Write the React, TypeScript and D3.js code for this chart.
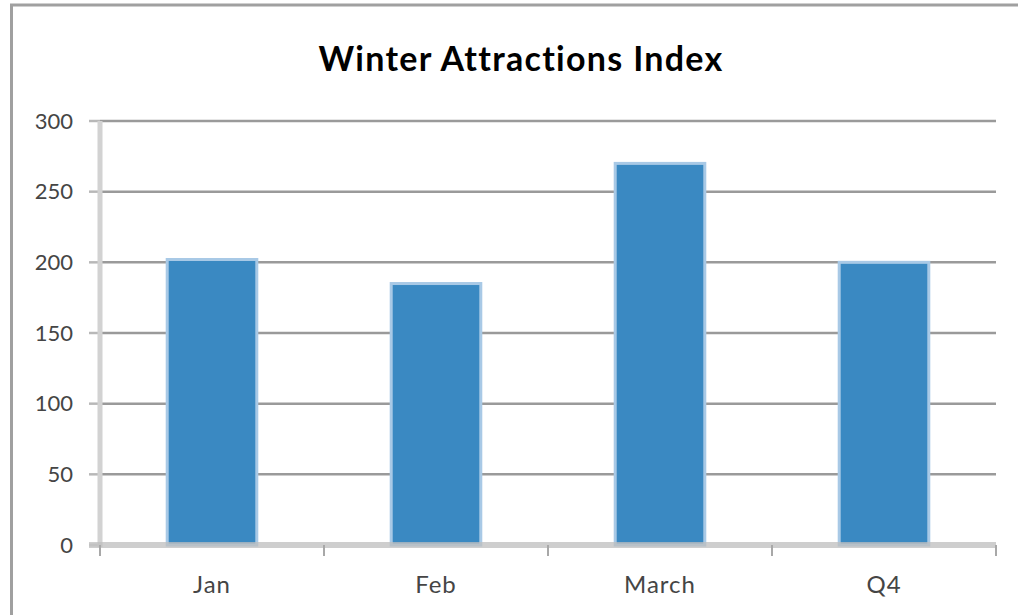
import React from "react";
import * as d3 from "d3";

const title = "Winter Attractions Index";
const categories = ["Jan", "Feb", "March", "Q4"];
const values = [202, 185, 270, 200];
const yTicks = [0, 50, 100, 150, 200, 250, 300];

const W = 1018;
const H = 615;
const M = { left: 100, right: 996, top: 121, bottom: 545 };

export default function App() {
  const x = d3
    .scaleBand<string>()
    .domain(categories)
    .range([M.left, M.right])
    .paddingInner(0.6)
    .paddingOuter(0.3);
  const y = d3.scaleLinear().domain([0, 300]).range([M.bottom, M.top]);
  const step = x.step();
  const boundaries = d3.range(categories.length + 1).map((i) => M.left + i * step);
  const font = "Lato, 'Open Sans', sans-serif";

  return (
    <div style={{ position: "absolute", left: 0, top: 0 }}>
      <svg width={W} height={H} style={{ display: "block", background: "#fff" }}>
        {/* chart border (left and top) */}
        <line x1={11.5} x2={11.5} y1={4} y2={H} stroke="#a0a0a0" strokeWidth={3} />
        <line x1={10} x2={W} y1={5} y2={5} stroke="#a0a0a0" strokeWidth={3} />

        <text
          x={521}
          y={71}
          textAnchor="middle"
          fontFamily={font}
          fontWeight={700}
          fontSize={34}
          letterSpacing={1.3}
          fill="#000"
        >
          {title}
        </text>

        {/* gridlines */}
        {yTicks.map((t) =>
          t === 0 ? null : (
            <g key={t}>
              <line x1={M.left - 11} x2={M.left} y1={y(t)} y2={y(t)} stroke="#b8b8b8" strokeWidth={2.5} />
              <line x1={M.left} x2={M.right} y1={y(t)} y2={y(t)} stroke="#9a9a9a" strokeWidth={2.5} />
            </g>
          )
        )}
        <line x1={M.left - 11} x2={M.left} y1={y(0)} y2={y(0)} stroke="#d0d0d0" strokeWidth={3} />

        {/* y axis line */}
        <line x1={M.left} x2={M.left} y1={M.top} y2={M.bottom + 2} stroke="#d2d2d2" strokeWidth={5} />

        {/* bars */}
        {categories.map((c, i) => (
          <rect
            key={c}
            x={x(c)!}
            y={y(values[i])}
            width={x.bandwidth()}
            height={y(0) - y(values[i])}
            fill="#3a89c2"
            stroke="#a8c9e6"
            strokeWidth={3}
          />
        ))}

        {/* x axis line */}
        <line x1={M.left - 11} x2={M.right} y1={M.bottom} y2={M.bottom} stroke="rgba(190,190,190,0.75)" strokeWidth={6} />
        {boundaries.map((b, i) => (
          <line key={i} x1={b} x2={b} y1={M.bottom} y2={M.bottom + 11} stroke="#a8a8a8" strokeWidth={2} />
        ))}

        {/* y tick labels */}
        {yTicks.map((t) => (
          <text
            key={t}
            x={73}
            y={y(t)}
            dy="0.35em"
            textAnchor="end"
            fontFamily={font}
            fontSize={22}
            fill="#454545"
          >
            {t}
          </text>
        ))}

        {/* x tick labels */}
        {categories.map((c) => (
          <text
            key={c}
            x={x(c)! + x.bandwidth() / 2}
            y={593}
            textAnchor="middle"
            fontFamily={font}
            fontSize={24}
            letterSpacing={1}
            fill="#454545"
          >
            {c}
          </text>
        ))}
      </svg>
    </div>
  );
}
